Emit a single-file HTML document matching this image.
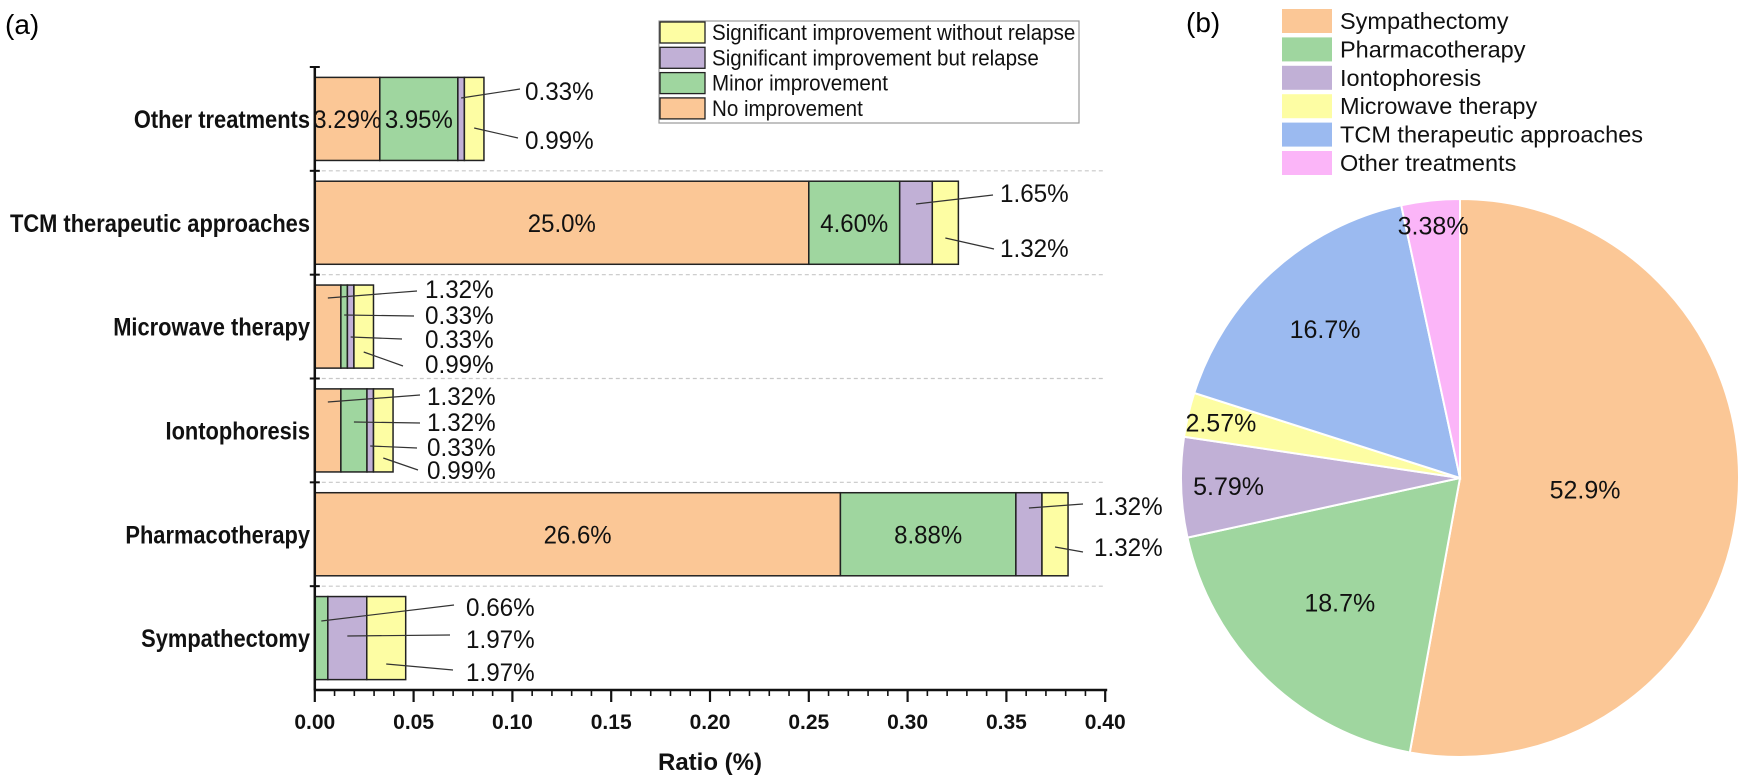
<!DOCTYPE html>
<html><head><meta charset="utf-8"><style>
html,body{margin:0;padding:0;background:#fff;}
svg{display:block;font-family:"Liberation Sans",Arial,sans-serif;}
</style></head><body>
<svg id="fig" width="1749" height="781" viewBox="0 0 1749 781" xmlns="http://www.w3.org/2000/svg">
<text x="5" y="34" font-size="28">(a)</text>
<text x="1186" y="32" font-size="28">(b)</text>
<g id="barChart"></g>
<g id="pieChart"></g>
</svg>
<script>
// ---- Bar chart data (fractions) ----
const categories = ["Other treatments","TCM therapeutic approaches","Microwave therapy","Iontophoresis","Pharmacotherapy","Sympathectomy"];
const seriesNames = ["No improvement","Minor improvement","Significant improvement but relapse","Significant improvement without relapse"];
const noImprovement = [0.0329,0.250,0.0132,0.0132,0.266,0.0];
const minorImprovement = [0.0395,0.046,0.0033,0.0132,0.0888,0.0066];
const improvementRelapse = [0.0033,0.0165,0.0033,0.0033,0.0132,0.0197];
const improvementNoRelapse = [0.0099,0.0132,0.0099,0.0099,0.0132,0.0197];
const xTicks = [0,0.05,0.10,0.15,0.20,0.25,0.30,0.35,0.40];
// ---- Pie data (%) ----
const pieLabels = ["Sympathectomy","Pharmacotherapy","Iontophoresis","Microwave therapy","TCM therapeutic approaches","Other treatments"];
const pieValues = [52.9,18.7,5.79,2.57,16.7,3.38];

const NS="http://www.w3.org/2000/svg";
function mk(tag,attrs,parent){const e=document.createElementNS(NS,tag);for(const k in attrs)e.setAttribute(k,attrs[k]);parent.appendChild(e);return e;}
function fmt(v){return v>=10?v.toFixed(1):v.toFixed(2);}

const bar=document.getElementById('barChart');
const X0=314.8, XS=1976, YT=67, YB=690, XE=X0+0.4*XS;
const band=(YB-YT)/categories.length, bh=band*0.8;
const xs=v=>X0+v*XS;
const yc=i=>YT+band*(i+0.5);
const segColors=["#fbc796","#9fd69f","#c1b0d6","#fdfda3"];
const series=[noImprovement,minorImprovement,improvementRelapse,improvementNoRelapse];

for(let i=1;i<categories.length;i++){
  const y=YT+band*i;
  const g=mk('line',{x1:X0,x2:XE,y1:y,y2:y,stroke:'#c8c8c8','stroke-width':1.2,'stroke-dasharray':'4,3'},bar);
  
  
}
categories.forEach((c,i)=>{
  let acc=0;
  series.forEach((s,k)=>{
    const v=s[i];
    if(v>0){
      const r=mk('rect',{x:xs(acc),y:yc(i)-bh/2,width:v*XS,height:bh,fill:segColors[k],stroke:'#222','stroke-width':1.5},bar);
      
      
    }
    acc+=v;
  });
  const t=mk('text',{transform:`translate(310,${yc(i)+9}) scale(0.875,1)`,'text-anchor':'end','font-size':25,'font-weight':'bold',fill:'#111'},bar);
  t.textContent=c;
  
  
});
const insideLabels=[[0,0],[0,1],[1,0],[1,1],[4,0],[4,1]];
insideLabels.forEach(([i,k])=>{
  let acc=0;for(let q=0;q<k;q++)acc+=series[q][i];
  const v=series[k][i];
  const t=mk('text',{transform:`translate(${xs(acc+v/2)},${yc(i)+9}) scale(0.96,1)`,'text-anchor':'middle','font-size':25,fill:'#111'},bar);
  t.textContent=fmt(v*100)+'%';
  
  
});
// callouts: [cat, series, lineStartY, lineEndX, lineEndY, textX, textY]
const callouts=[
 [0,2,98,520,89,525,99],[0,3,128,518,138,525,148],
 [1,2,204,993,195,1000,201],[1,3,238,994,249,1000,256],
 [2,0,298,417,291,425,297],[2,1,315,414,316,425,323],[2,2,337,402,339,425,347],[2,3,352,403,366,425,372],
 [3,0,402,420,395,427,404],[3,1,422,420,423,427,430],[3,2,446,417,448,427,455],[3,3,458,418,470,427,478],
 [4,2,508,1083,504,1094,514],[4,3,547,1083,552,1094,555],
 [5,1,621,454,605,466,615],[5,2,636,450,635,466,647],[5,3,664,453,670,466,680]
];
callouts.forEach(([i,k,ly,ex,ey,tx,ty])=>{
  let acc=0;for(let q=0;q<k;q++)acc+=series[q][i];
  const v=series[k][i];
  const l=mk('line',{x1:xs(acc+v/2),y1:ly,x2:ex,y2:ey,stroke:'#333','stroke-width':1.2},bar);
  
  
  const t=mk('text',{transform:`translate(${tx},${ty+1}) scale(0.97,1)`,'font-size':25,fill:'#111'},bar);
  t.textContent=fmt(v*100)+'%';
  
  
});
let ax=mk('line',{x1:X0,x2:X0,y1:YT,y2:YB,stroke:'#111','stroke-width':2.5},bar);


ax=mk('line',{x1:X0-1,x2:XE+2,y1:YB,y2:YB,stroke:'#111','stroke-width':2.5},bar);


for(let i=0;i<categories.length;i++){
  const y=YT+band*i;
  const tk=mk('line',{x1:X0-5,x2:X0+5,y1:y,y2:y,stroke:'#111','stroke-width':2},bar);
  
  
}
for(let m=0;m<=40;m++){
  const x=xs(m/100), major=m%5===0;
  const tk=mk('line',{x1:x,x2:x,y1:YB,y2:YB+(major?12:6),stroke:'#111','stroke-width':major?2.2:1.6},bar);
  
  
}
xTicks.forEach(v=>{
  const t=mk('text',{x:xs(v),y:729,'text-anchor':'middle','font-size':21,'font-weight':'bold',fill:'#111'},bar);
  t.textContent=v.toFixed(2);
  
  
});
let xt=mk('text',{x:710,y:770,'text-anchor':'middle','font-size':24,'font-weight':'bold',fill:'#111'},bar);
xt.textContent='Ratio (%)';


const lg=mk('g',{},bar);


mk('rect',{x:659,y:21,width:420,height:102,fill:'#fff',stroke:'#999','stroke-width':1.2},lg);
const legOrder=[3,2,1,0];
legOrder.forEach((k,r)=>{
  const y=22+r*25.3;
  const sw=mk('rect',{x:660,y:y,width:45,height:21,fill:segColors[k],stroke:'#222','stroke-width':1.3},lg);
  
  
  const t=mk('text',{transform:`translate(712,${y+18}) scale(0.935,1)`,'font-size':22,fill:'#111'},lg);
  t.textContent=seriesNames[k];
  
  
});

// ---- Pie ----
const pie=document.getElementById('pieChart');
const CX=1460, CY=478, R=279;
const pieColors=["#fbc796","#9fd69f","#c1b0d6","#fdfda3","#9bbaf0","#fbb5f8"];
const labelFrac=[0.45,0.62,0.83,0.88,0.72,0.91];
const total=pieValues.reduce((a,b)=>a+b,0);
let ang=0;
pieValues.forEach((v,i)=>{
  const a0=ang, a1=ang+v/total*2*Math.PI; ang=a1;
  const p=a=>[CX+R*Math.sin(a),CY-R*Math.cos(a)];
  const [x0,y0]=p(a0),[x1,y1]=p(a1);
  const large=(a1-a0)>Math.PI?1:0;
  const s=mk('path',{d:`M${CX},${CY} L${x0},${y0} A${R},${R} 0 ${large} 1 ${x1},${y1} Z`,fill:pieColors[i],stroke:'#fff','stroke-width':2},pie);
  
  
  const am=(a0+a1)/2, lr=R*labelFrac[i];
  const t=mk('text',{x:CX+lr*Math.sin(am),y:CY-lr*Math.cos(am)+9,'text-anchor':'middle','font-size':25,fill:'#111'},pie);
  t.textContent=fmt(v)+'%';
  
  
});
pieLabels.forEach((n,i)=>{
  const y=21+i*28.4;
  const sw=mk('rect',{x:1282,y:y-12,width:50,height:24,fill:pieColors[i]},pie);
  
  
  const t=mk('text',{x:1340,y:y+8,'font-size':23.5,fill:'#111'},pie);
  t.textContent=n;
  
  
});
</script>
</body></html>
